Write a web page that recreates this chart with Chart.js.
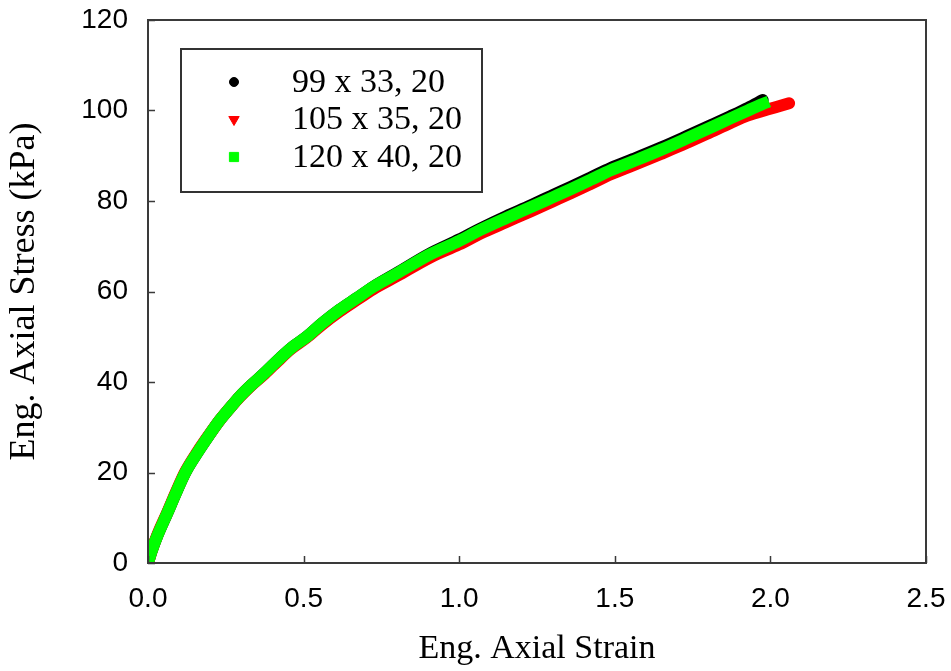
<!DOCTYPE html>
<html>
<head>
<meta charset="utf-8">
<script src="https://cdn.jsdelivr.net/npm/chart.js@4.4.1/dist/chart.umd.min.js"></script>
<style>
  html, body { margin: 0; padding: 0; background: #ffffff; }
  #c { display: block; }
</style>
</head>
<body>
<canvas id="c" width="951" height="671"></canvas>
<script>
// ---- data ----
const seriesLabels = ["99 x 33, 20", "105 x 35, 20", "120 x 40, 20"];

const strainBlack = [0, 0.01, 0.03, 0.062, 0.09, 0.12, 0.16, 0.196, 0.23, 0.26, 0.295, 0.33, 0.375, 0.42, 0.46, 0.51, 0.56, 0.616, 0.67, 0.723, 0.8, 0.906, 1.0, 1.068, 1.15, 1.229, 1.3, 1.358, 1.42, 1.487, 1.56, 1.648, 1.73, 1.81, 1.87, 1.928, 1.975];
const stressBlack = [0, 2.3, 6.0, 11.0, 15.5, 20.0, 24.5, 28.2, 31.5, 34.0, 36.8, 39.2, 42.0, 45.0, 47.5, 50.0, 53.0, 56.0, 58.5, 61.0, 64.1, 68.4, 71.5, 73.9, 76.6, 79.0, 81.3, 83.1, 85.1, 87.3, 89.3, 91.8, 94.3, 96.8, 98.7, 100.6, 102.3];

const strainRed = [0, 0.01, 0.03, 0.062, 0.09, 0.12, 0.16, 0.196, 0.23, 0.26, 0.295, 0.33, 0.375, 0.42, 0.46, 0.51, 0.56, 0.616, 0.67, 0.723, 0.8, 0.906, 1.0, 1.068, 1.15, 1.229, 1.3, 1.358, 1.42, 1.487, 1.56, 1.648, 1.73, 1.81, 1.87, 1.928, 1.99, 2.03, 2.06];
const stressRed = [0, 2.4, 6.2, 11.2, 15.7, 20.2, 24.7, 28.3, 31.5, 34.0, 36.7, 39.1, 41.8, 44.8, 47.3, 49.8, 52.7, 55.6, 58.1, 60.5, 63.4, 67.5, 70.4, 72.8, 75.3, 77.7, 79.9, 81.7, 83.7, 85.9, 87.9, 90.4, 92.8, 95.3, 97.2, 98.9, 100.2, 101.0, 101.6];

const strainGreen = [0, 0.01, 0.03, 0.062, 0.09, 0.12, 0.16, 0.196, 0.23, 0.26, 0.295, 0.33, 0.375, 0.42, 0.46, 0.51, 0.56, 0.616, 0.67, 0.723, 0.8, 0.906, 1.0, 1.068, 1.15, 1.229, 1.3, 1.358, 1.42, 1.487, 1.56, 1.648, 1.73, 1.81, 1.87, 1.928, 1.97, 1.995];
const stressGreen = [0, 2.3, 6.0, 11.0, 15.5, 20.0, 24.5, 28.2, 31.5, 34.0, 36.8, 39.2, 42.0, 45.0, 47.5, 50.0, 53.0, 56.0, 58.5, 61.0, 64.0, 68.2, 71.2, 73.6, 76.2, 78.6, 80.8, 82.6, 84.6, 86.8, 88.8, 91.3, 93.8, 96.3, 98.2, 100.0, 101.3, 102.0];

const xTicks = [0, 0.5, 1.0, 1.5, 2.0, 2.5];
const yTicks = [0, 20, 40, 60, 80, 100, 120];

function pairs(xs, ys) { return xs.map((x, i) => ({ x: x, y: ys[i] })); }

const colors = ["#000000", "#ff0000", "#00ff00"];
const pointStyles = ["circle", "triangle", "rect"];
const legendRotation = [0, 180, 0];
const legendRadius = [4.5, 6, 6.5];

function noPad(s) { s.paddingTop = 0; s.paddingBottom = 0; s.paddingLeft = 0; s.paddingRight = 0; }

const frameAndTicks = {
  id: "frameAndTicks",
  afterDatasetsDraw(chart) {
    const { ctx, chartArea: a, scales } = chart;
    ctx.save();
    ctx.strokeStyle = "#3a3a3a";
    ctx.lineWidth = 2;
    ctx.strokeRect(a.left, a.top, a.right - a.left, a.bottom - a.top);
    ctx.lineWidth = 1.5;
    ctx.beginPath();
    xTicks.forEach(v => {
      const px = Math.round(scales.x.getPixelForValue(v)) + 0.5;
      ctx.moveTo(px, a.bottom);
      ctx.lineTo(px, a.bottom - 7);
    });
    yTicks.forEach(v => {
      const py = Math.round(scales.y.getPixelForValue(v)) + 0.5;
      ctx.moveTo(a.left, py);
      ctx.lineTo(a.left + 7, py);
    });
    ctx.stroke();

    // legend box
    const bx = 181, by = 49, bw = 301, bh = 143;
    ctx.fillStyle = "#ffffff";
    ctx.fillRect(bx, by, bw, bh);
    ctx.lineWidth = 2;
    ctx.strokeStyle = "#333333";
    ctx.strokeRect(bx, by, bw, bh);
    const rowsY = [82, 119.5, 157];
    chart.data.datasets.forEach((ds, i) => {
      ctx.fillStyle = colors[i];
      ctx.strokeStyle = colors[i];
      ctx.lineWidth = 1;
      Chart.helpers.drawPoint(ctx, { pointStyle: pointStyles[i], radius: legendRadius[i], rotation: legendRotation[i], borderWidth: 1 }, 234, rowsY[i]);
      ctx.fillStyle = "#000000";
      ctx.font = "34px 'Liberation Serif', 'Times New Roman', serif";
      ctx.textBaseline = "middle";
      ctx.textAlign = "left";
      ctx.fillText(ds.label, 292, rowsY[i] + 1);
    });
    ctx.restore();
  }
};

new Chart(document.getElementById("c"), {
  type: "scatter",
  data: {
    datasets: [
      { label: seriesLabels[0], data: pairs(strainBlack, stressBlack), showLine: true, borderColor: colors[0], backgroundColor: colors[0], borderWidth: 12, pointRadius: 0, borderCapStyle: "round", borderJoinStyle: "round", cubicInterpolationMode: "monotone", order: 3 },
      { label: seriesLabels[1], data: pairs(strainRed, stressRed), showLine: true, borderColor: colors[1], backgroundColor: colors[1], borderWidth: 12, pointRadius: 0, borderCapStyle: "round", borderJoinStyle: "round", cubicInterpolationMode: "monotone", order: 2 },
      { label: seriesLabels[2], data: pairs(strainGreen, stressGreen), showLine: true, borderColor: colors[2], backgroundColor: colors[2], borderWidth: 12, pointRadius: 0, borderCapStyle: "butt", borderJoinStyle: "round", cubicInterpolationMode: "monotone", order: 1 }
    ]
  },
  options: {
    responsive: false,
    animation: false,
    devicePixelRatio: 1,
    layout: { padding: { left: 3, right: 25, top: 20, bottom: 2 } },
    plugins: { legend: { display: false }, tooltip: { enabled: false } },
    scales: {
      x: {
        type: "linear", min: 0, max: 2.5,
        afterBuildTicks: s => { s.ticks = xTicks.map(v => ({ value: v })); },
        afterFit: s => { s.height = 106; noPad(s); },
        grid: { display: false, drawTicks: false },
        border: { display: false },
        ticks: { padding: 19, color: "#000", font: { family: "'Liberation Sans', Arial, sans-serif", size: 28 }, callback: v => Number(v).toFixed(1), maxRotation: 0 },
        title: { display: true, text: "Eng. Axial Strain", color: "#000", padding: 0, font: { family: "'Liberation Serif', 'Times New Roman', serif", size: 34, lineHeight: 1.2 } }
      },
      y: {
        type: "linear", min: 0, max: 120,
        afterBuildTicks: s => { s.ticks = yTicks.map(v => ({ value: v })); },
        afterFit: s => { s.width = 145; noPad(s); },
        grid: { display: false, drawTicks: false },
        border: { display: false },
        ticks: { padding: 20, color: "#000", font: { family: "'Liberation Sans', Arial, sans-serif", size: 28 } },
        title: { display: true, text: "Eng. Axial Stress (kPa)", color: "#000", padding: 0, font: { family: "'Liberation Serif', 'Times New Roman', serif", size: 36, lineHeight: 1.2 } }
      }
    }
  },
  plugins: [frameAndTicks]
});
</script>
</body>
</html>
